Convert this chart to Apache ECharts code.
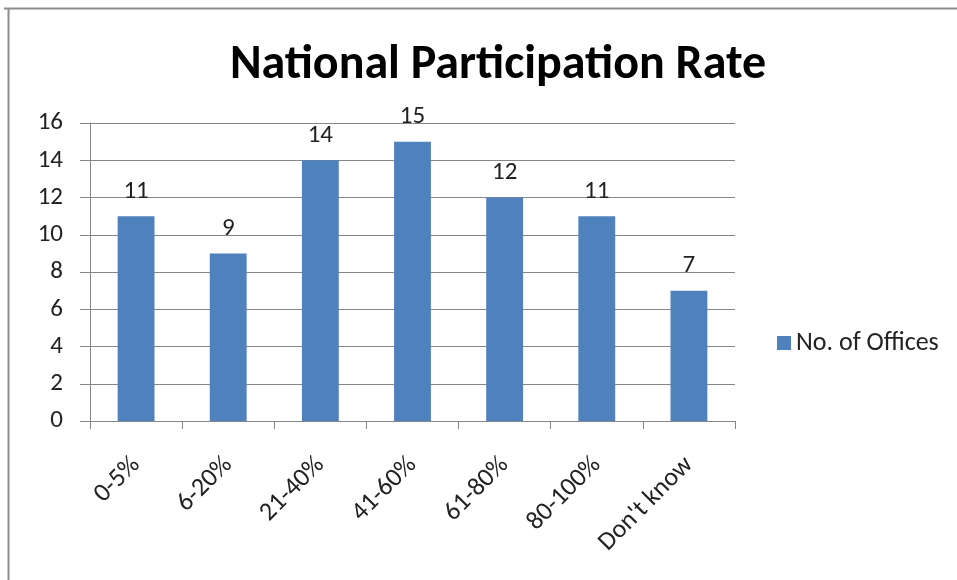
<!DOCTYPE html>
<html><head><meta charset="utf-8">
<script src="https://cdn.jsdelivr.net/npm/echarts@6/dist/echarts.min.js"></script>
<style>html,body{margin:0;padding:0;background:#fff;}#c{width:957px;height:580px;}</style>
</head><body><div id="c"></div>
<script>
const categories = ["0-5%", "6-20%", "21-40%", "41-60%", "61-80%", "80-100%", "Don't know"];
const values = [11, 9, 14, 15, 12, 11, 7];
const seriesName = "No. of Offices";
const titleText = "National Participation Rate";

const chart = echarts.init(document.getElementById('c'));
const font = "Carlito, 'Liberation Sans Narrow', 'Open Sans', sans-serif";
chart.setOption({
  backgroundColor: '#fff',
  animation: false,
  graphic: [
    {type: 'polyline', shape: {points: [[4, 8.5], [957, 8.5]]}, style: {stroke: '#8c8c8c', lineWidth: 2}},
    {type: 'polyline', shape: {points: [[8.5, 8], [8.5, 580]]}, style: {stroke: '#8c8c8c', lineWidth: 2}}
  ],
  title: {
    text: titleText, left: 493, top: 37, textAlign: 'center',
    textStyle: {fontFamily: font, fontWeight: 'bold', fontSize: 48, color: '#000'}
  },
  legend: {
    left: 772, top: 325, itemWidth: 14, itemHeight: 14, itemGap: 9,
    textStyle: {fontFamily: font, fontSize: 26, color: '#222'},
    data: [{name: seriesName, icon: 'rect'}]
  },
  grid: {left: 90, right: 222, top: 123, bottom: 159},
  xAxis: {
    type: 'category', data: categories,
    axisLine: {lineStyle: {color: '#868686', width: 1}},
    axisTick: {show: true, length: 8, lineStyle: {color: '#868686'}, alignWithLabel: false},
    axisLabel: {rotate: 45, fontFamily: font, fontSize: 26, color: '#222', margin: 40, interval: 0}
  },
  yAxis: {
    type: 'value', min: 0, max: 16, interval: 2,
    axisLine: {show: true, lineStyle: {color: '#868686'}},
    axisTick: {show: true, inside: false, length: 10, lineStyle: {color: '#868686'}},
    splitLine: {lineStyle: {color: '#868686', width: 1}},
    axisLabel: {fontFamily: font, fontSize: 25, color: '#222', margin: 27}
  },
  series: [{
    name: seriesName, type: 'bar', data: values, barWidth: '40%',
    itemStyle: {color: '#4F81BD'},
    label: {show: true, position: 'top', distance: 12, fontFamily: font, fontSize: 25, color: '#222'}
  }]
});
</script></body></html>
